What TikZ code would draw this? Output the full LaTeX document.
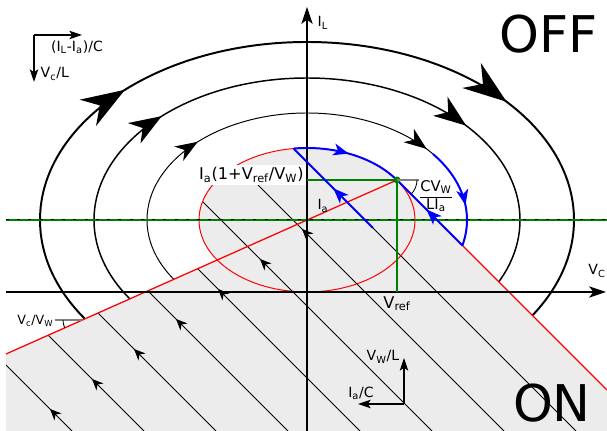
\documentclass[tikz,border=0pt]{standalone}
\usepackage{fontspec}
\setmainfont{DejaVu Sans}
\usetikzlibrary{arrows.meta, decorations.markings}

\newcommand{\sub}[1]{\textsubscript{#1}}

\begin{document}
\begin{tikzpicture}[
    x=0.025cm, y=0.025cm,
    lbl/.style={font=\fontsize{10}{12}\selectfont, inner sep=1pt},
    lblbig/.style={font=\fontsize{11.5}{13}\selectfont, inner sep=1.5pt},
    lblsmall/.style={font=\fontsize{9}{11}\selectfont, inner sep=1pt},
    bigword/.style={font=\fontsize{36}{40}\selectfont, inner sep=0pt},
    axis/.style={line width=1pt, -{Stealth[length=12pt, width=8pt, inset=3pt]}},
    legend/.style={line width=0.8pt, -{Stealth[length=9pt, width=6pt, inset=2pt]}},
    onpath/.style={line width=0.7pt},
    onarrow/.style={line width=0.7pt, -{Stealth[length=8pt, width=7pt, inset=2.5pt]}},
    offarrows/.style={postaction={decorate}, decoration={markings,
        mark=at position 0.115 with {\arrow{#1}},
        mark=at position 0.4 with {\arrow{#1}}}},
    midarrow/.style={postaction={decorate}, decoration={markings,
        mark=at position #1 with {\arrow{Stealth[length=11pt, width=8.5pt, inset=3pt]}}}},
    limit/.style={blue, line width=1.4pt},
    vrefline/.style={green!50!black, line width=1pt},
    onregion/.style={insert path={(6,0) -- (607,0) -- (607,41) -- (G) -- (6,77) -- cycle
        (C) ellipse[x radius=108, y radius=72]}}
]
\fill[white] (0,0) rectangle (607,431);
\useasboundingbox (0,0) rectangle (607,431);

% Points
\coordinate (C) at (307,211);
\coordinate (G) at (397,251);
\coordinate (R) at (82,111);

% OFF trajectories
\draw[line width=1.4pt, offarrows={Stealth[length=31pt, width=22pt, inset=10pt]}]
    (C) ++(-267,0) arc[start angle=180, end angle=-180, x radius=267, y radius=178];
\draw[line width=1.05pt, offarrows={Stealth[length=23pt, width=17pt, inset=7pt]}]
    (C) ++(-213,0) arc[start angle=180, end angle=-180, x radius=213, y radius=142];
\draw[line width=0.7pt, offarrows={Stealth[length=16pt, width=12pt, inset=5pt]}]
    (C) ++(-160,0) arc[start angle=180, end angle=-180, x radius=160, y radius=107];

% ON region
\fill[gray!15, onregion];
\begin{scope}
  \clip[onregion];
  \foreach \c in {72,144,...,576}
    \draw[onpath] (\c,0) -- ++(-450,450);
\end{scope}
\foreach \k in {1,...,7} {
  \pgfmathsetmacro{\xa}{8+42*\k}
  \pgfmathsetmacro{\ya}{72*\k-\xa}
  \draw[onarrow] (\xa+5,\ya-5) -- (\xa,\ya);
}

% Switching lines
\draw[red, line width=0.7pt] (C) ellipse[x radius=108, y radius=72];
\draw[red, line width=0.9pt] (6,77) -- (G) -- (607,41);

% Axes
\draw[vrefline, line width=0.9pt] (6,211) -- (607,211);
\draw[line width=0.7pt, dash pattern=on 2pt off 6pt] (6,211) -- (607,211);
\draw[axis] (6,139) -- (606,139);
\draw[axis] (307,0) -- (307,424);
\draw[vrefline] (307,251) -- (G) -- (397,139);

% Sliding path
\draw[limit, midarrow=0.5] (C) ++(97:108 and 72)
    arc[start angle=97, end angle=33.7, x radius=108, y radius=72];
\draw[limit, midarrow=0.55] (462.4,185.6) -- (G);
\draw[limit, midarrow=0.6] (C) ++(38:160 and 107)
    arc[start angle=38, end angle=-13.8, x radius=160, y radius=107];
\draw[limit, midarrow=0.5] (373,203) -- (293.6,282.4);
\fill[green!50!black] (G) circle[radius=3.5];

% Slopes
\draw[gray, line width=1pt] (G) -- ++(22,0);
\draw[line width=0.6pt] (G) ++(20,0) arc[start angle=0, end angle=-45, radius=20];
\draw[gray, line width=1pt] (R) -- ++(-27,0);
\draw[line width=0.6pt] (R) ++(-19,0) arc[start angle=180, end angle=204, radius=19];

% Labels
\node[lbl, anchor=west] (ilabel) at (316,408) {I\sub{L}};
\node[lbl] (vclabel) at (597,160) {V\sub{C}};
\node[lblbig, anchor=north] (vref) at (397,137) {V\sub{ref}};
\node[lbl] (ialabel) at (323,225) {I\sub{a}};
\node[lblbig, fill=white, anchor=east] (iaref) at (306,256) {I\sub{a}(1+V\sub{ref}/V\sub{W})};
\node[lbl, font=\fontsize{10.5}{12}\selectfont] (slope) at (436,234) {\begin{tabular}{@{}c@{}}CV\sub{W}\\\hline LI\sub{a}\end{tabular}};
\node[lblsmall, anchor=east] (ratio) at (55,110) {V\sub{c}/V\sub{W}};

% Legends
\coordinate (L1) at (34,396);
\draw[legend] (L1) -- ++(48,0);
\draw[legend] (L1) -- ++(0,-47);
\node[lbl] (offx) at (77,384) {(I\sub{L}-I\sub{a})/C};
\node[lbl, anchor=west] (offy) at (39,357) {V\sub{c}/L};
\coordinate (L2) at (404,27);
\draw[legend] (L2) -- ++(0,46);
\draw[legend] (L2) -- ++(-46,0);
\node[lbl] (ony) at (383,74) {V\sub{W}/L};
\node[lbl] (onx) at (361,38) {I\sub{a}/C};
\node[bigword] (off) at (549,397) {OFF};
\node[bigword] (on) at (552,28) {ON};
\end{tikzpicture}
\end{document}
